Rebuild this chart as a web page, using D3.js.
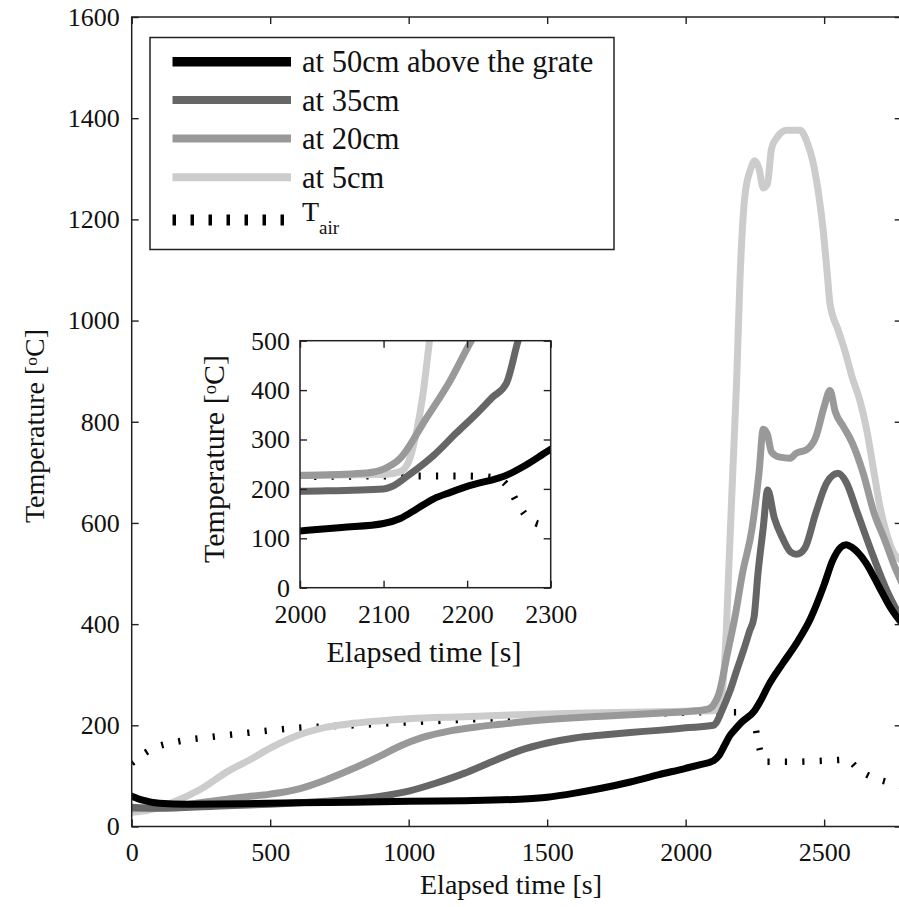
<!DOCTYPE html>
<html>
<head>
<meta charset="utf-8">
<script src="https://cdn.jsdelivr.net/npm/d3@7"></script>
<style>
  html, body { margin: 0; padding: 0; background: #fff; }
  svg { display: block; font-family: "Liberation Serif", "DejaVu Serif", serif; }
</style>
</head>
<body>
<svg id="chart" width="899" height="907"></svg>
<script>
// Tick values
const timeTicks = [0, 500, 1000, 1500, 2000, 2500];
const tempTicks = [0, 200, 400, 600, 800, 1000, 1200, 1400, 1600];
const insetTimeTicks = [2000, 2100, 2200, 2300];
const insetTempTicks = [0, 100, 200, 300, 400, 500];

// Bed temperatures [time s, temperature °C]
const at50cm = [[0,60],[40,52],[100,46],[200,44],[400,45],[600,47],[800,48],[1000,50],[1200,51],[1400,54],[1500,58],[1600,66],[1700,76],[1800,88],[1900,102],[2000,115],[2050,122],[2100,130],[2120,140],[2140,160],[2160,180],[2180,193],[2200,205],[2250,230],[2270,248],[2300,280],[2350,322],[2400,362],[2450,410],[2500,478],[2530,525],[2560,552],[2580,557],[2600,552],[2650,522],[2700,472],[2740,432],[2780,402]];
const at35cm = [[0,38],[100,36],[300,40],[500,44],[700,50],[800,54],[900,60],[1000,70],[1100,86],[1200,105],[1300,128],[1400,150],[1500,165],[1600,175],[1700,181],[1800,186],[1900,190],[2000,195],[2100,200],[2110,205],[2130,228],[2160,268],[2187,313],[2210,350],[2230,385],[2247,414],[2261,500],[2280,590],[2296,665],[2320,610],[2350,570],[2380,542],[2400,538],[2430,550],[2470,620],[2510,680],[2550,698],[2580,680],[2620,620],[2680,530],[2730,462],[2780,410]];
const at20cm = [[0,35],[100,37],[247,47],[400,58],[500,64],[608,75],[700,92],[789,112],[900,140],[969,159],[1050,176],[1150,189],[1250,197],[1330,202],[1450,209],[1600,215],[1700,218],[1800,221],[1900,224],[2000,227],[2080,232],[2100,240],[2120,262],[2150,340],[2180,420],[2205,500],[2240,590],[2265,700],[2280,785],[2295,775],[2310,740],[2340,730],[2377,728],[2400,738],[2437,745],[2470,770],[2500,830],[2521,862],[2540,820],[2570,790],[2600,760],[2640,700],[2680,620],[2720,565],[2750,520],[2780,482]];
const at5cm = [[0,28],[66,33],[150,48],[247,73],[350,110],[427,132],[500,155],[608,182],[700,196],[800,204],[900,209],[1000,213],[1200,217],[1400,221],[1600,224],[1800,226],[2000,228],[2100,229],[2120,235],[2130,255],[2140,320],[2147,390],[2155,500],[2170,700],[2184,880],[2196,1080],[2214,1247],[2235,1300],[2250,1316],[2265,1300],[2280,1262],[2295,1270],[2310,1340],[2330,1362],[2365,1376],[2413,1376],[2440,1350],[2460,1313],[2480,1250],[2496,1181],[2510,1100],[2521,1034],[2550,982],[2575,940],[2600,890],[2630,840],[2654,783],[2680,700],[2700,636],[2725,580],[2748,544],[2780,525]];
// Air temperature
const airTemp = [[0,125],[20,134],[80,155],[150,166],[270,176],[400,184],[600,195],[800,200],[1000,206],[1200,211],[1400,216],[1600,219],[1800,222],[2000,225],[2100,226],[2200,226],[2235,222],[2250,202],[2260,172],[2275,138],[2290,128],[2400,128],[2500,130],[2580,132],[2630,110],[2680,96],[2740,86],[2780,80]];

const legendLabels = ["at 50cm above the grate", "at 35cm", "at 20cm", "at 5cm", "T"];
const seriesColors = ["#000000", "#666666", "#999999", "#cccccc"];

const svg = d3.select("#chart");

const solidSeries = [
  { data: at5cm, color: seriesColors[3] },
  { data: at20cm, color: seriesColors[2] },
  { data: at35cm, color: seriesColors[1] },
  { data: at50cm, color: seriesColors[0] }
];

// Draw one framed panel (box axes with inward ticks on all four sides)
function drawPanel(opts) {
  const { x, y, xTicks, yTicks, clipId, lineWidth, dotWidth } = opts;
  const g = svg.append("g");
  const [x0, x1] = x.range();
  const [y0, y1] = y.range(); // y0 bottom, y1 top

  g.append("rect")
    .attr("x", x0).attr("y", y1)
    .attr("width", x1 - x0).attr("height", y0 - y1)
    .attr("fill", "#fff");

  svg.append("defs").append("clipPath").attr("id", clipId)
    .append("rect")
    .attr("x", x0).attr("y", y1)
    .attr("width", x1 - x0).attr("height", y0 - y1);

  const plot = g.append("g").attr("clip-path", `url(#${clipId})`);
  const line = d3.line()
    .x(d => x(d[0])).y(d => y(d[1]))
    .curve(d3.curveMonotoneX);

  plot.append("path")
    .datum(airTemp)
    .attr("d", line)
    .attr("fill", "none")
    .attr("stroke", "#000")
    .attr("stroke-width", dotWidth)
    .attr("stroke-dasharray", "2.2 15.2");

  solidSeries.forEach(s => {
    plot.append("path")
      .datum(s.data)
      .attr("d", line)
      .attr("fill", "none")
      .attr("stroke", s.color)
      .attr("stroke-width", lineWidth)
      .attr("stroke-linejoin", "round")
      .attr("stroke-linecap", "round");
  });

  const tickLen = 7;
  const axisStyle = sel => {
    sel.select(".domain").remove();
    sel.selectAll(".tick line").attr("stroke", "#222").attr("stroke-width", 1.4);
    sel.selectAll(".tick text")
      .attr("fill", "#111")
      .style("font-size", opts.tickFont + "px")
      .style("font-family", "'Liberation Serif', serif");
  };

  g.append("g").attr("transform", `translate(0,${y0})`)
    .call(d3.axisBottom(x).tickValues(xTicks).tickSize(-tickLen).tickPadding(opts.xPad).tickFormat(d3.format("d")))
    .call(axisStyle);
  g.append("g").attr("transform", `translate(0,${y1})`)
    .call(d3.axisTop(x).tickValues(xTicks).tickSize(-tickLen).tickFormat(""))
    .call(axisStyle);
  g.append("g").attr("transform", `translate(${x0},0)`)
    .call(d3.axisLeft(y).tickValues(yTicks).tickSize(-tickLen).tickPadding(opts.yPad).tickFormat(d3.format("d")))
    .call(axisStyle);
  g.append("g").attr("transform", `translate(${x1},0)`)
    .call(d3.axisRight(y).tickValues(yTicks).tickSize(-tickLen).tickFormat(""))
    .call(axisStyle);

  g.append("rect")
    .attr("x", x0).attr("y", y1)
    .attr("width", x1 - x0).attr("height", y0 - y1)
    .attr("fill", "none")
    .attr("stroke", "#222")
    .attr("stroke-width", 1.5);

  // Axis titles
  g.append("text")
    .attr("x", opts.xTitleX).attr("y", opts.xTitleY)
    .attr("text-anchor", "middle")
    .style("font-size", opts.titleFont + "px")
    .attr("fill", "#111")
    .text("Elapsed time [s]");

  const yt = g.append("text")
    .attr("transform", `translate(${opts.yTitleX},${opts.yTitleY}) rotate(-90)`)
    .attr("text-anchor", "middle")
    .style("font-size", opts.titleFont + "px")
    .attr("fill", "#111");
  yt.append("tspan").text("Temperature [");
  yt.append("tspan").attr("baseline-shift", "40%").style("font-size", (opts.titleFont * 0.62) + "px").text("o");
  yt.append("tspan").text("C]");
  return g;
}

// Main panel
const xMain = d3.scaleLinear().domain([0, 2780]).range([131.7, 901.7]);
const yMain = d3.scaleLinear().domain([0, 1600]).range([826.5, 17]);
drawPanel({
  x: xMain, y: yMain, xTicks: timeTicks, yTicks: tempTicks, clipId: "clipMain",
  lineWidth: 7, dotWidth: 6.5, tickFont: 26, titleFont: 28, xPad: 16, yPad: 12,
  xTitleX: 511, xTitleY: 894, yTitleX: 44, yTitleY: 426
});

// Legend
const legend = svg.append("g");
legend.append("rect")
  .attr("x", 150).attr("y", 37.5).attr("width", 464).attr("height", 212)
  .attr("fill", "#fff").attr("stroke", "#222").attr("stroke-width", 1.5);
const legendYs = [61.7, 100, 138.5, 177.3, 220];
const legendWidths = [9.5, 8, 8, 8];
seriesColors.forEach((c, i) => {
  legend.append("line")
    .attr("x1", 172.5).attr("x2", 291)
    .attr("y1", legendYs[i]).attr("y2", legendYs[i])
    .attr("stroke", c).attr("stroke-width", legendWidths[i]);
});
legend.append("line")
  .attr("x1", 172.5).attr("x2", 291)
  .attr("y1", legendYs[4]).attr("y2", legendYs[4])
  .attr("stroke", "#000").attr("stroke-width", 11)
  .attr("stroke-dasharray", "3.5 14.5");
legendLabels.forEach((t, i) => {
  const txt = legend.append("text")
    .attr("x", 302)
    .attr("y", i < 4 ? legendYs[i] + 10.5 : legendYs[i] + 1)
    .style("font-size", i < 4 ? "30.5px" : "28px")
    .attr("fill", "#111")
    .text(t);
  if (i === 4) {
    txt.append("tspan")
      .attr("dy", 13)
      .style("font-size", "19px")
      .text("air");
  }
});

// Inset panel: zoom on the ignition front
const xInset = d3.scaleLinear().domain([2000, 2300]).range([300, 550.7]);
const yInset = d3.scaleLinear().domain([0, 500]).range([587.7, 340.7]);
drawPanel({
  x: xInset, y: yInset, xTicks: insetTimeTicks, yTicks: insetTempTicks, clipId: "clipInset",
  lineWidth: 7, dotWidth: 7, tickFont: 26, titleFont: 30, xPad: 17, yPad: 10,
  xTitleX: 424, xTitleY: 662, yTitleX: 224, yTitleY: 459
});
</script>
</body>
</html>
